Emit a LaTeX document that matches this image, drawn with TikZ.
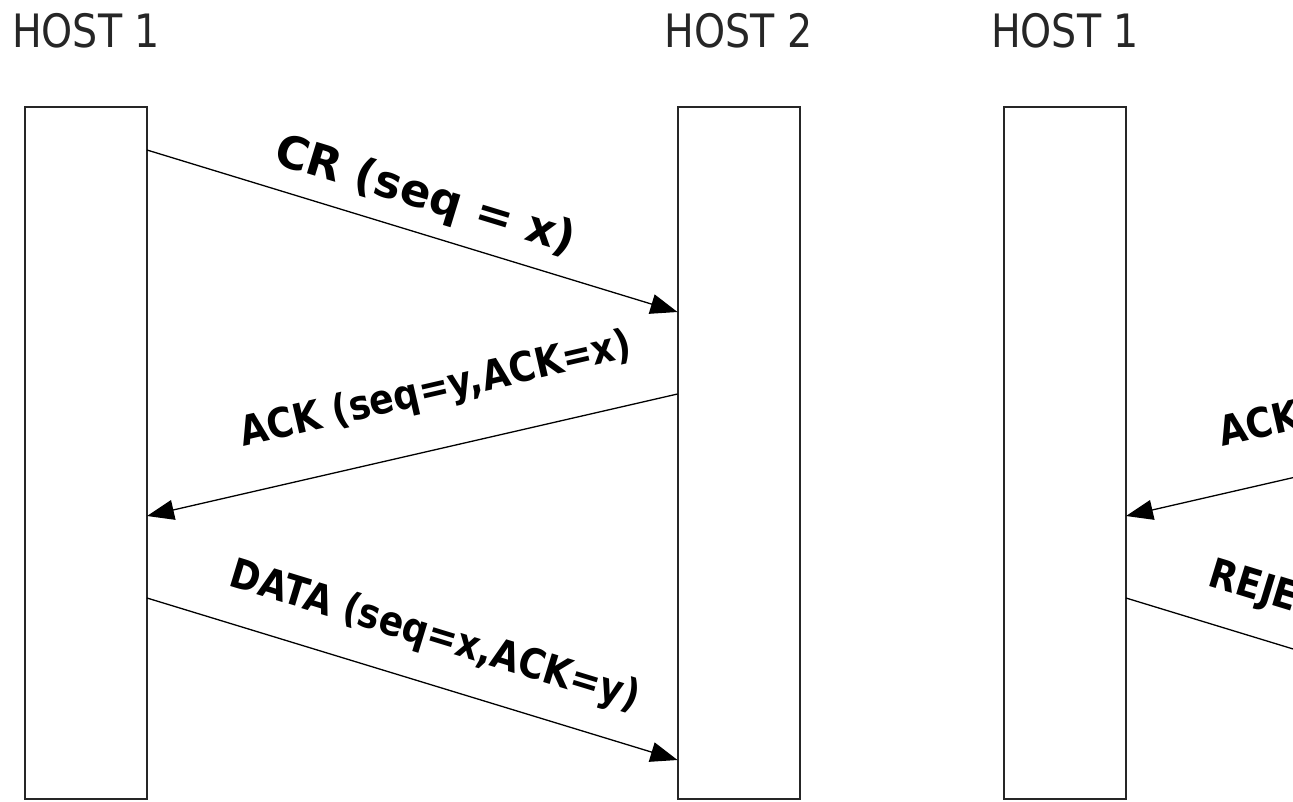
\documentclass[tikz,border=0pt]{standalone}
\usepackage{fontspec}
\setmainfont{DejaVu Sans}
\newfontfamily\hostfont[FakeStretch=0.86]{DejaVu Sans}
\newfontfamily\msgfont[FakeStretch=0.88]{DejaVu Sans}
\usetikzlibrary{arrows.meta,calc}

\begin{document}
\begin{tikzpicture}[x=1pt,y=-1pt,
  hostbox/.style={draw=black!85, line width=2pt, minimum width=122pt,
    minimum height=692pt, inner sep=0pt, outer sep=0pt},
  hostname/.style={font=\hostfont\fontsize{46}{50}\selectfont, text=black!85,
    anchor=base, inner sep=0pt},
  msg/.style={line width=1.3pt, -{Triangle[length=27pt,width=20pt]}},
  msglabel/.style={font=\msgfont\bfseries\fontsize{41}{45}\selectfont, inner sep=0pt},
  widelabel/.style={font=\bfseries\fontsize{45}{49}\selectfont, inner sep=0pt},
]
\useasboundingbox (0,0) rectangle (1293,801);
\fill[white] (0,0) rectangle (1293,801);
\clip (0,0) rectangle (1293,801);

% three time lines
\node[hostbox] (h1) at (86,453) {};
\node[hostbox] (h2) at (738.5,453) {};
\node[hostbox] (h3) at (1065,453) {};

\node[hostname] (n1) at ($(h1.north)+(0,-60)$) {HOST 1};
\node[hostname] (n2) at ($(h2.north)+(0,-60)$) {HOST 2};
\node[hostname] (n3) at ($(h3.north)+(0,-60)$) {HOST 1};

% partner of the third time line lies beyond the right edge
\coordinate (far) at ($(h3.north west)+(653,0)$);

% normal three-way handshake
\draw[msg] ($(h1.north east)+(0,43)$) -- ($(h2.north west)+(0,205)$);
\draw[msg] ($(h2.north west)+(0,287)$) -- ($(h1.north east)+(0,409)$);
\draw[msg] ($(h1.north east)+(0,491)$) -- ($(h2.north west)+(0,653)$);

% duplicate case
\draw[msg] ($(far)+(0,287)$) -- ($(h3.north east)+(0,409)$);
\draw[msg] ($(h3.north east)+(0,491)$) -- ($(far)+(0,653)$);

% message labels
\node[widelabel, rotate=-16.97] (lcr) at (425,197) {CR (seq = x)};
\node[msglabel, rotate=12.94] (lack) at (436,391) {ACK (seq=y,ACK=x)};
\node[msglabel, rotate=-16.97, anchor=west] (ldata) at (231,575) {DATA (seq=x,ACK=y)};
\node[msglabel, rotate=12.94] (lack3) at (1415,391) {ACK (seq=y,ACK=x)};
\node[msglabel, rotate=-16.97, anchor=west] (lrej) at (1210,575) {REJECT (ACK=y)};
\end{tikzpicture}
\end{document}
